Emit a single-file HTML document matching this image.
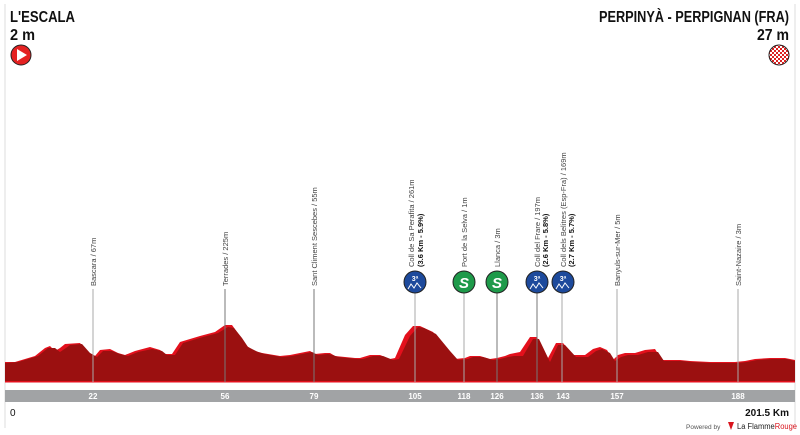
<!DOCTYPE html>
<html><head><meta charset="utf-8"><style>
html,body{margin:0;padding:0;background:#fff;}
svg{display:block;font-family:"Liberation Sans",sans-serif;}
.lb{font-size:7.5px;fill:#444;}
.lbb{font-size:7.5px;fill:#111;font-weight:bold;}
.tk{font-size:8px;fill:#fff;font-weight:bold;text-anchor:middle;}
</style></head><body>
<svg width="800" height="435" viewBox="0 0 800 435">
<rect x="4" y="4" width="2" height="424" fill="#eee"/>
<rect x="794" y="4" width="2" height="424" fill="#eee"/>
<text x="10" y="22" font-size="16" font-weight="bold" fill="#111" textLength="65" lengthAdjust="spacingAndGlyphs">L'ESCALA</text>
<text x="10" y="40" font-size="16" font-weight="bold" fill="#111" textLength="25" lengthAdjust="spacingAndGlyphs">2 m</text>
<circle cx="21" cy="55" r="10" fill="#e42222" stroke="#222" stroke-width="1"/>
<polygon points="17,49 17,61 27,55" fill="#fff"/>
<text x="789" y="22" font-size="16" font-weight="bold" fill="#111" text-anchor="end" textLength="190" lengthAdjust="spacingAndGlyphs">PERPINYÀ - PERPIGNAN (FRA)</text>
<text x="789" y="40" font-size="16" font-weight="bold" fill="#111" text-anchor="end" textLength="32" lengthAdjust="spacingAndGlyphs">27 m</text>
<defs><pattern id="ck" width="4" height="4" patternUnits="userSpaceOnUse"><rect width="4" height="4" fill="#fff"/><rect width="2" height="2" fill="#d22"/><rect x="2" y="2" width="2" height="2" fill="#d22"/></pattern></defs>
<circle cx="779" cy="55" r="10" fill="url(#ck)" stroke="#222" stroke-width="1"/>

<g id="prof">
<polygon fill="#e3101c" points="5,382 5,362 15,362 25,359 35,356 45,348 50,346 55,351 60,348 65,344 80,343 88,352 95,356 100,350 110,349 118,353 125,355 135,351 150,347 160,350 165,354 172,354 180,342 190,339 200,336 215,332 225,325 232,325 240,336 245,345 255,351 262,353 280,356 290,355 300,353 310,351 315,354 325,353 330,353 335,356 355,358 360,358 370,355 380,355 390,359 395,358 405,335 413,326 420,326 433,332 448,350 455,359 465,358 470,356 480,356 490,359 497,358 505,356 510,354 520,352 530,337 537,337 547,360 556,343 563,343 573,355 585,355 593,349 600,347 607,350 613,360 618,355 625,353 635,353 645,350 655,349 662,360 680,360 690,361 710,362 735,362 745,361 755,359 770,358 785,358 795,360 795,382"/>
<polygon fill="#9b1010" points="5,382 5,363 18,362 28,359 38,356 48,348 55,348 60,352 66,348 70,345 82,344 90,353 97,357 103,351 112,351 120,354 128,356 138,352 152,349 162,351 167,355 175,355 183,343 193,340 203,337 218,333 228,327 234,328 242,338 248,347 258,352 265,354 282,357 292,356 302,354 312,352 318,355 328,354 333,355 338,357 358,359 363,359 373,356 383,356 393,360 399,359 410,336 418,327 424,328 436,334 450,351 458,360 468,359 473,357 483,357 493,360 500,359 508,357 514,356 523,356 533,339 539,339 550,362 558,345 565,345 576,357 588,357 596,351 602,349 610,353 615,361 621,357 628,355 638,355 648,352 658,352 664,361 682,361 692,362 712,363 737,363 747,362 757,360 772,359 787,359 795,361 795,382"/>
</g>
<rect x="5" y="381" width="790" height="1.5" fill="#e3101c"/>
<rect x="5" y="390" width="790" height="12" fill="#a1a3a5"/>

<g stroke="#aaa" stroke-width="1">
<line x1="93" y1="289" x2="93" y2="382"/>
<line x1="225" y1="289" x2="225" y2="382" stroke="#777"/>
<line x1="314" y1="289" x2="314" y2="382" stroke="#777"/>
<line x1="415" y1="293" x2="415" y2="382"/>
<line x1="464" y1="293" x2="464" y2="382"/>
<line x1="497" y1="293" x2="497" y2="382" stroke="#777"/>
<line x1="537" y1="293" x2="537" y2="382" stroke="#777"/>
<line x1="562" y1="293" x2="562" y2="382"/>
<line x1="617" y1="289" x2="617" y2="382"/>
<line x1="738" y1="289" x2="738" y2="382"/>
</g>

<text class="lb" transform="translate(96,286) rotate(-90)">Bascara / 67m</text>
<text class="lb" transform="translate(228,286) rotate(-90)">Terrades / 225m</text>
<text class="lb" transform="translate(317,286) rotate(-90)">Sant Climent Sescebes / 55m</text>
<text class="lb" transform="translate(414,267) rotate(-90)">Coll de Sa Perafita / 261m</text>
<text class="lbb" transform="translate(423,267) rotate(-90)">(3.6 Km - 5.9%)</text>
<text class="lb" transform="translate(467,267) rotate(-90)">Port de la Selva / 1m</text>
<text class="lb" transform="translate(500,267) rotate(-90)">Llanca / 3m</text>
<text class="lb" transform="translate(540,267) rotate(-90)">Coll del Frare  / 197m</text>
<text class="lbb" transform="translate(548,267) rotate(-90)">(2.6 Km - 5.8%)</text>
<text class="lb" transform="translate(566,267) rotate(-90)">Coll dels Belitres (Esp-Fra) / 169m</text>
<text class="lbb" transform="translate(574,267) rotate(-90)">(2.7 Km - 5.7%)</text>
<text class="lb" transform="translate(620,286) rotate(-90)">Banyuls-sur-Mer / 5m</text>
<text class="lb" transform="translate(741,286) rotate(-90)">Saint-Nazaire / 3m</text>

<g>
<circle cx="415" cy="282" r="11" fill="#1d4a9c" stroke="#222"/>
<text x="415" y="281" font-size="7" font-weight="bold" fill="#fff" text-anchor="middle">3ª</text>
<polyline points="408,289 411,284 414,288 417,283 421,288" fill="none" stroke="#fff" stroke-width="1"/>
<circle cx="537" cy="282" r="11" fill="#1d4a9c" stroke="#222"/>
<text x="537" y="281" font-size="7" font-weight="bold" fill="#fff" text-anchor="middle">3ª</text>
<polyline points="530,289 533,284 536,288 539,283 543,288" fill="none" stroke="#fff" stroke-width="1"/>
<circle cx="563" cy="282" r="11" fill="#1d4a9c" stroke="#222"/>
<text x="563" y="281" font-size="7" font-weight="bold" fill="#fff" text-anchor="middle">3ª</text>
<polyline points="556,289 559,284 562,288 565,283 569,288" fill="none" stroke="#fff" stroke-width="1"/>
<circle cx="464" cy="282" r="11" fill="#1e9a4a" stroke="#222"/>
<text x="464" y="288" font-size="15" font-weight="bold" font-style="italic" fill="#fff" text-anchor="middle">S</text>
<circle cx="497" cy="282" r="11" fill="#1e9a4a" stroke="#222"/>
<text x="497" y="288" font-size="15" font-weight="bold" font-style="italic" fill="#fff" text-anchor="middle">S</text>
</g>

<text class="tk" x="93" y="399">22</text>
<text class="tk" x="225" y="399">56</text>
<text class="tk" x="314" y="399">79</text>
<text class="tk" x="415" y="399">105</text>
<text class="tk" x="464" y="399">118</text>
<text class="tk" x="497" y="399">126</text>
<text class="tk" x="537" y="399">136</text>
<text class="tk" x="563" y="399">143</text>
<text class="tk" x="617" y="399">157</text>
<text class="tk" x="738" y="399">188</text>

<text x="10" y="416" font-size="10" fill="#111">0</text>
<text x="789" y="416" font-size="10" font-weight="bold" fill="#111" text-anchor="end">201.5 Km</text>
<text x="686" y="429" font-size="6.5" fill="#555">Powered by</text>
<polygon points="728,422 734,422 731,430" fill="#d9141d"/>
<text x="737" y="429" font-size="8" fill="#222" textLength="60" lengthAdjust="spacingAndGlyphs">La Flamme<tspan fill="#d9141d">Rouge</tspan></text>
</svg>
</body></html>
